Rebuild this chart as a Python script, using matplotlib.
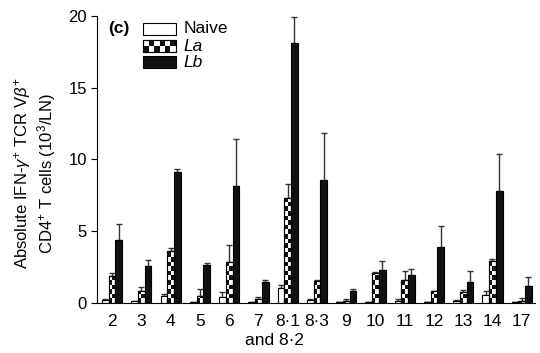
import numpy as np
import matplotlib
matplotlib.use("Agg")
import matplotlib.pyplot as plt
from matplotlib.patches import Rectangle

plt.rcParams['font.family'] = ['Liberation Sans', 'DejaVu Sans']
plt.rcParams['mathtext.fontset'] = 'custom'
plt.rcParams['mathtext.rm'] = 'Liberation Sans'
plt.rcParams['mathtext.it'] = 'Liberation Sans:italic'

# TCR Vbeta families
groups = ['2', '3', '4', '5', '6', '7', '8·1', '8·3', '9', '10', '11', '12', '13', '14', '17']

# means (10^3/LN)
naive = [0.2, 0.1, 0.5, 0.03, 0.4, 0.05, 1.05, 0.2, 0.03, 0.08, 0.14, 0.05, 0.1, 0.55, 0.03]
la = [1.85, 0.85, 3.6, 0.5, 2.85, 0.25, 7.3, 1.53, 0.14, 2.11, 1.6, 0.81, 0.75, 2.9, 0.14]
lb = [4.4, 2.6, 9.1, 2.65, 8.15, 1.45, 18.1, 8.55, 0.85, 2.3, 1.95, 3.9, 1.45, 7.8, 1.2]

# upper error (SD)
naive_err = [0.1, 0.0, 0.1, 0.0, 0.35, 0.0, 0.2, 0.08, 0.0, 0.0, 0.11, 0.0, 0.09, 0.3, 0.0]
la_err = [0.25, 0.25, 0.2, 0.5, 1.15, 0.15, 0.95, 0.05, 0.12, 0.05, 0.65, 0.0, 0.12, 0.15, 0.23]
lb_err = [1.1, 0.4, 0.2, 0.15, 3.3, 0.15, 1.8, 3.3, 0.15, 0.6, 0.4, 1.45, 0.8, 2.6, 0.6]

fig = plt.figure(figsize=(5.4, 3.53), dpi=100)
ax = fig.add_axes([0.18, 0.142, 0.81, 0.813])

x = np.arange(len(groups))
w = 0.23
ecol = '#333333'

def draw_checker(ax, xc, h, width, cell):
    # two-column checkerboard inside a bar of height h
    n = int(np.ceil(h / cell))
    for k in range(n):
        b = k * cell
        top = min(h, b + cell)
        off = -width / 4 if k % 2 == 0 else width / 4
        ax.bar(xc + off, top - b, width / 2, bottom=b, color='#111111',
               linewidth=0, zorder=3)

# naive
ax.bar(x - w, naive, w, color='white', edgecolor='black', linewidth=0.8, zorder=2)
# La
ax.bar(x, la, w, color='white', edgecolor='black', linewidth=0.8, zorder=2)
for xi, h in zip(x, la):
    draw_checker(ax, xi, h, w, 0.32)
ax.bar(x, la, w, fill=False, edgecolor='black', linewidth=0.8, zorder=4)
# Lb
ax.bar(x + w, lb, w, color='#111111', edgecolor='black', linewidth=0.8, zorder=2)

for off, vals, errs in [(-w, naive, naive_err), (0, la, la_err), (w, lb, lb_err)]:
    errs = np.array(errs)
    ax.errorbar(x + off, vals, yerr=[np.zeros_like(errs), errs], fmt='none',
                ecolor=ecol, elinewidth=1, capsize=2, capthick=1, zorder=1)

ax.set_xlim(-0.51, 14.44)
ax.set_ylim(0, 20)
ax.set_yticks([0, 5, 10, 15, 20])
ax.set_xticks(x)
ax.set_xticklabels(groups, fontsize=12.5)
ax.tick_params(axis='x', length=0, pad=8)
ax.tick_params(axis='y', labelsize=12, length=4, direction='out')
for s in ['top', 'right']:
    ax.spines[s].set_visible(False)
ax.text(6 - 0.45, -2.1, 'and 8·2', ha='center', va='top', fontsize=12.5)

ax.set_ylabel('Absolute IFN-$\\gamma^{+}$ TCR V$\\beta^{+}$\nCD4$^{+}$ T cells (10$^{3}$/LN)',
              fontsize=12, linespacing=1.15)
ax.yaxis.set_label_coords(-0.089, 0.45)

# legend
ax.text(0.025, 0.955, '(c)', transform=ax.transAxes, fontsize=12.5,
        fontweight='bold', va='center', ha='left')
lx, lw_, lh = 0.105, 0.075, 0.042
rows = [(0.955, 'Naive', 'normal'), (0.894, 'La', 'italic'), (0.838, 'Lb', 'italic')]
for i, (yc, lab, st) in enumerate(rows):
    fc = '#111111' if i == 2 else 'white'
    ax.add_patch(Rectangle((lx, yc - lh / 2), lw_, lh, transform=ax.transAxes,
                           facecolor=fc, edgecolor='black', linewidth=0.8, clip_on=False))
    if i == 1:
        nc, nr = 6, 2
        for c in range(nc):
            for r in range(nr):
                if (c + r) % 2 == 0:
                    ax.add_patch(Rectangle((lx + c * lw_ / nc, yc - lh / 2 + r * lh / nr),
                                           lw_ / nc, lh / nr, transform=ax.transAxes,
                                           facecolor='#111111', linewidth=0, clip_on=False))
        ax.add_patch(Rectangle((lx, yc - lh / 2), lw_, lh, transform=ax.transAxes,
                               fill=False, edgecolor='black', linewidth=0.8, clip_on=False))
    ax.text(lx + lw_ + 0.018, yc, lab, transform=ax.transAxes, fontsize=12.5,
            style=st, va='center', ha='left')

fig.savefig('out.png', dpi=100)
